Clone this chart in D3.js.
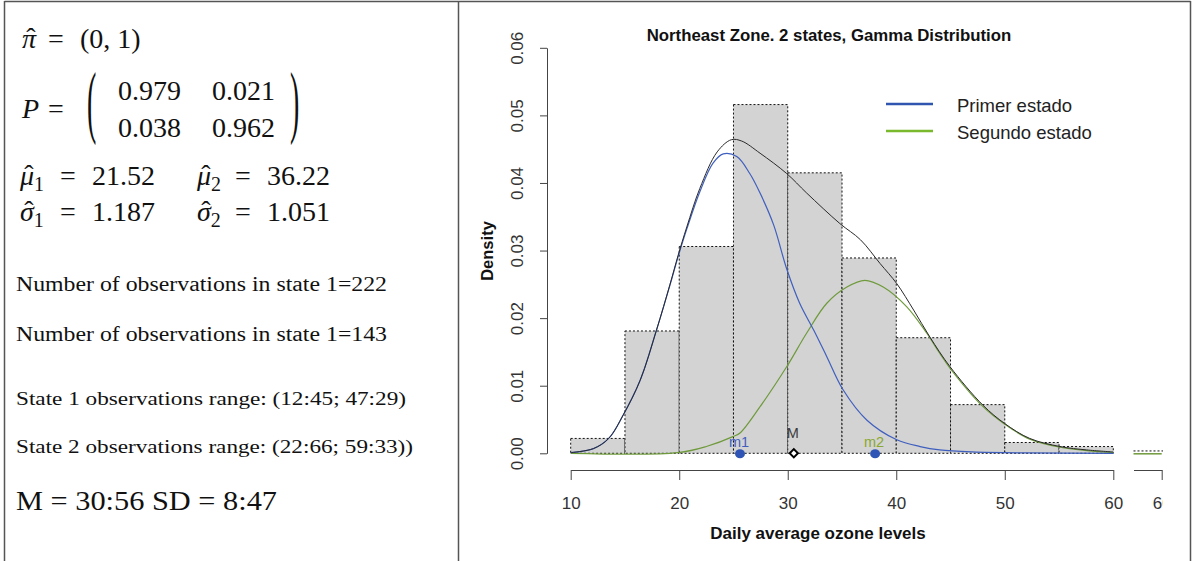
<!DOCTYPE html>
<html>
<head>
<meta charset="utf-8">
<script src="https://cdn.jsdelivr.net/npm/d3@7"></script>
<style>
  body { margin: 0; background: #fff; }
  svg { display: block; }
</style>
</head>
<body>
<svg id="chart" width="1193" height="561"></svg>
<script>
// histogram bins (ozone level) and densities
var binEdges = [10, 15, 20, 25, 30, 35, 40, 45, 50, 55, 60];
var binDensity = [0.0022, 0.0181, 0.0306, 0.0516, 0.0415, 0.0289, 0.0171, 0.0072, 0.0016, 0.0010];

// mixture density (black)
var mixX = [10, 12.1, 13.5, 14.85, 16.4, 17.9, 19.15, 19.9, 20.7, 21.9, 23.5, 24.8, 25.76, 27.45, 29.9, 31.75, 34.8, 36.7, 38.5, 40.05, 41.6, 43.1, 44.96, 48.0, 50.0, 52.3, 55.1, 57.55, 60];
var mixY = [0.0001, 0.0007, 0.0022, 0.0057, 0.0108, 0.0182, 0.0250, 0.0293, 0.0335, 0.0392, 0.0446, 0.0464, 0.0462, 0.0444, 0.0414, 0.0385, 0.0340, 0.0316, 0.0281, 0.0251, 0.0212, 0.0172, 0.0128, 0.0071, 0.0044, 0.0022, 0.0010, 0.0005, 0.0002];

// first state (blue)
var state1X = [10, 12.1, 13.5, 14.85, 16.4, 17.9, 19.15, 19.9, 20.7, 21.9, 23.1, 24.06, 25.3, 26.5, 27.45, 28.7, 29.9, 31.1, 32.4, 33.6, 35.1, 37.3, 40.05, 42.2, 44.0, 47, 52, 60];
var state1Y = [0.0001, 0.0007, 0.0022, 0.0057, 0.0108, 0.0182, 0.0249, 0.0291, 0.0332, 0.0387, 0.0429, 0.0443, 0.0439, 0.0414, 0.0385, 0.0338, 0.0273, 0.0222, 0.0182, 0.0143, 0.0094, 0.0049, 0.0020, 0.0010, 0.0005, 0.0002, 0.00005, 0];

// second state (green)
var state2X = [10, 19.9, 22.5, 25, 25.6, 27.45, 29.9, 31.75, 33.6, 35.45, 37.1, 38.8, 40.95, 42.8, 44.0, 45, 48, 50, 52.3, 55.1, 57.55, 60];
var state2Y = [0, 0.0001, 0.0010, 0.0025, 0.0030, 0.0069, 0.0128, 0.0178, 0.0222, 0.0246, 0.0256, 0.0246, 0.0217, 0.0178, 0.0148, 0.0125, 0.0069, 0.0043, 0.0021, 0.0009, 0.0004, 0.0001];

// markers on the baseline
var markerX = [25.6, 30.56, 38.05];
var markerLabels = ["m1", "M", "m2"];

var yTicks = [0, 0.01, 0.02, 0.03, 0.04, 0.05, 0.06];
var xTicks = [10, 20, 30, 40, 50, 60];

var legendLabels = ["Primer estado", "Segundo estado"];

var svg = d3.select("#chart");

// frame
var frame = svg.append("g").attr("stroke", "#555").attr("stroke-width", 1.5).attr("fill", "none");
frame.append("line").attr("x1", 4.5).attr("x2", 1190.5).attr("y1", 1.5).attr("y2", 1.5);
frame.append("line").attr("x1", 4.5).attr("x2", 4.5).attr("y1", 1).attr("y2", 561);
frame.append("line").attr("x1", 458.5).attr("x2", 458.5).attr("y1", 1).attr("y2", 561);
frame.append("line").attr("x1", 1190.5).attr("x2", 1190.5).attr("y1", 1).attr("y2", 561);

// ---------- left panel (text) ----------
var left = svg.append("g").attr("font-family", "Liberation Serif, serif").attr("fill", "#111");
var mathSize = 28;

function txt(x, y, s, size, italic) {
  return left.append("text").attr("x", x).attr("y", y).attr("font-size", size || mathSize)
    .attr("font-style", italic ? "italic" : null).text(s);
}

// symbol with a circumflex hat and optional subscript
function hatted(x, y, sym, sub) {
  var t = left.append("text").attr("x", x).attr("y", y).attr("font-size", mathSize);
  t.append("tspan").attr("font-style", "italic").text(sym);
  if (sub) t.append("tspan").attr("font-size", 20).attr("dy", 6).text(sub);
  left.append("text").attr("x", x + 9).attr("y", y - 1).attr("font-size", mathSize)
    .attr("text-anchor", "middle").text("\u02C6");
  return t;
}

hatted(22, 48, "\u03C0");
txt(48, 48, "=");
txt(80, 48, "(0, 1)");

txt(22, 118, "P", mathSize, true);
txt(48, 118, "=");
left.append("text").attr("font-size", mathSize).attr("transform", "translate(87,128) scale(1,2.85)").text("(");
left.append("text").attr("font-size", mathSize).attr("transform", "translate(290,128) scale(1,2.85)").text(")");
txt(118, 100, "0.979");
txt(212, 100, "0.021");
txt(118, 137, "0.038");
txt(212, 137, "0.962");

hatted(20, 185, "\u03BC", "1");
txt(60, 185, "=");
txt(92, 185, "21.52");
hatted(197, 185, "\u03BC", "2");
txt(235, 185, "=");
txt(267, 185, "36.22");
hatted(20, 221, "\u03C3", "1");
txt(60, 221, "=");
txt(92, 221, "1.187");
hatted(197, 221, "\u03C3", "2");
txt(235, 221, "=");
txt(267, 221, "1.051");

var infoLines = [
  { t: "Number of observations in state 1=222", y: 290.5, w: 371, s: 20 },
  { t: "Number of observations in state 1=143", y: 340.5, w: 371, s: 20 },
  { t: "State 1 observations range: (12:45; 47:29)", y: 405, w: 390, s: 19.5 },
  { t: "State 2 observations range: (22:66; 59:33))", y: 453, w: 397, s: 19.5 },
  { t: "M = 30:56 SD = 8:47", y: 510, w: 261, s: 28 }
];
infoLines.forEach(function (d) {
  left.append("text").attr("x", 16).attr("y", d.y).attr("font-size", d.s)
    .attr("textLength", d.w).attr("lengthAdjust", "spacingAndGlyphs").text(d.t);
});

// ---------- right panel (chart) ----------
var x = d3.scaleLinear().domain([10, 60]).range([570.7, 1113.3]);
var y = d3.scaleLinear().domain([0, 0.06]).range([453.3, 47.8]);

var sans = "Liberation Sans, Arial, sans-serif";
var plot = svg.append("g").attr("font-family", sans);

// bars
var bins = binDensity.map(function (d, i) { return { x0: binEdges[i], x1: binEdges[i + 1], d: d }; });
plot.selectAll("rect.bar").data(bins).enter().append("rect")
  .attr("class", "bar")
  .attr("x", function (d) { return x(d.x0); })
  .attr("width", function (d) { return x(d.x1) - x(d.x0); })
  .attr("y", function (d) { return y(d.d); })
  .attr("height", function (d) { return y(0) - y(d.d); })
  .attr("fill", "#d3d3d3")
  .attr("stroke", "#111")
  .attr("stroke-width", 1)
  .attr("stroke-dasharray", "2,2");

// curves
var line = d3.line()
  .x(function (d) { return x(d[0]); })
  .y(function (d) { return y(d[1]); })
  .curve(d3.curveCatmullRom);

function zip(a, b) { return a.map(function (v, i) { return [v, b[i]]; }); }

plot.append("path").datum(zip(state2X, state2Y)).attr("d", line)
  .attr("fill", "none").attr("stroke", "#6f9a3c").attr("stroke-width", 1.2);
plot.append("path").datum(zip(state1X, state1Y)).attr("d", line)
  .attr("fill", "none").attr("stroke", "#3f5fbf").attr("stroke-width", 1.2);
plot.append("path").datum(zip(mixX, mixY)).attr("d", line)
  .attr("fill", "none").attr("stroke", "#2a2a2a").attr("stroke-width", 1);

// markers
var markerColor = ["#3f5fbf", "#3b3b3b", "#8aa830"];
markerX.forEach(function (m, i) {
  if (i === 1) {
    plot.append("path")
      .attr("d", d3.symbol().type(d3.symbolSquare).size(34)())
      .attr("transform", "translate(" + x(m) + "," + y(0) + ") rotate(45)")
      .attr("fill", "#fff").attr("stroke", "#000").attr("stroke-width", 2);
  } else {
    plot.append("ellipse").attr("cx", x(m)).attr("cy", y(0) + 0.5).attr("rx", 5).attr("ry", 4.5)
      .attr("fill", "#2e55b5");
  }
  plot.append("text").attr("x", x(m) - 1).attr("y", y(0) - (i === 1 ? 15 : 6.5))
    .attr("text-anchor", "middle").attr("font-size", 14.5).attr("fill", markerColor[i])
    .text(markerLabels[i]);
});

function styleAxis(g) {
  g.select(".domain").attr("stroke", "#444");
  g.selectAll(".tick line").attr("stroke", "#444");
  g.selectAll(".tick text").attr("font-size", 17).attr("fill", "#333").attr("font-family", sans);
}

// y axis
var yAxis = plot.append("g").attr("transform", "translate(547,0)")
  .call(d3.axisLeft(y).tickValues(yTicks).tickFormat(d3.format(".2f")).tickSize(7).tickSizeOuter(0));
styleAxis(yAxis);
yAxis.selectAll(".tick text")
  .attr("transform", "rotate(-90)")
  .attr("x", 0).attr("y", -30).attr("dy", "0.35em")
  .attr("text-anchor", "middle");

// x axis
var xAxis = plot.append("g").attr("transform", "translate(0,470)")
  .call(d3.axisBottom(x).tickValues(xTicks).tickFormat(d3.format("d")).tickSize(10).tickSizeOuter(0));
styleAxis(xAxis);
xAxis.selectAll(".tick text").attr("y", 33).attr("dy", "0.35em");

// clipped piece of a second panel on the far right
svg.append("clipPath").attr("id", "cut").append("rect")
  .attr("x", 1125).attr("y", 0).attr("width", 38).attr("height", 561);
var x2 = d3.scaleLinear().domain([55, 60]).range([1133.5, 1161.7]);
var piece = plot.append("g").attr("clip-path", "url(#cut)");
piece.append("path").datum([[55, 0], [60, 0]])
  .attr("d", d3.line().x(function (d) { return x2(d[0]); }).y(function (d) { return y(d[1]) + 0.5; }))
  .attr("stroke", "#6f9a3c").attr("stroke-width", 1.5);
piece.append("path").datum([[55, 0.0002], [61, 0.0002]])
  .attr("d", d3.line().x(function (d) { return x2(d[0]); }).y(function (d) { return y(d[1]) - 1; }))
  .attr("stroke", "#111").attr("stroke-dasharray", "2,2");
var xAxis2 = piece.append("g").attr("transform", "translate(0,470)")
  .call(d3.axisBottom(x2).tickValues([60]).tickFormat(d3.format("d")).tickSize(10).tickSizeOuter(0));
styleAxis(xAxis2);
xAxis2.selectAll(".tick text").attr("y", 33).attr("dy", "0.35em");

// titles
plot.append("text").attr("x", 829).attr("y", 41).attr("text-anchor", "middle")
  .attr("font-size", 16.8).attr("font-weight", "bold").attr("fill", "#111")
  .text("Northeast Zone. 2 states, Gamma Distribution");
plot.append("text").attr("x", 818).attr("y", 539).attr("text-anchor", "middle")
  .attr("font-size", 17).attr("font-weight", "bold").attr("fill", "#111")
  .text("Daily average ozone levels");
plot.append("text").attr("transform", "translate(493,251) rotate(-90)").attr("text-anchor", "middle")
  .attr("font-size", 16.5).attr("font-weight", "bold").attr("fill", "#111")
  .text("Density");

// legend
var legendColor = ["#2f55b0", "#7ab82d"];
legendLabels.forEach(function (lab, i) {
  var ly = 104 + i * 27;
  plot.append("line").attr("x1", 886).attr("x2", 933).attr("y1", ly).attr("y2", ly)
    .attr("stroke", legendColor[i]).attr("stroke-width", 2.5);
  plot.append("text").attr("x", 957).attr("y", ly + 7.5).attr("font-size", 18.5).attr("fill", "#222")
    .text(lab);
});
</script>
</body>
</html>
